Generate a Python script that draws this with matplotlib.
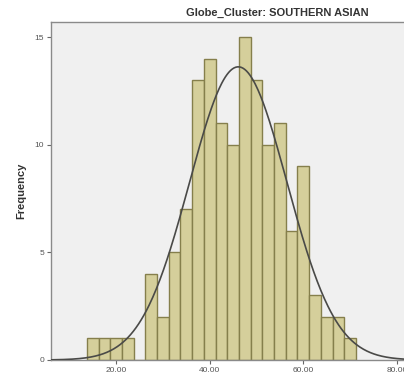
"""Histogram of cluster scores with fitted normal curve."""
import numpy as np
from matplotlib import pyplot as plt

# bin edges (width 2.5) and counts per bin
bin_left = [13.75, 16.25, 18.75, 21.25, 23.75, 26.25, 28.75, 31.25, 33.75,
            36.25, 38.75, 41.25, 43.75, 46.25, 48.75, 51.25, 53.75, 56.25,
            58.75, 61.25, 63.75, 66.25, 68.75]
counts = [1, 1, 1, 1, 0, 4, 2, 5, 7, 13, 14, 11, 10, 15, 13, 10, 11, 6,
          9, 3, 2, 2, 1]
bin_width = 2.5

# fitted normal parameters
mean = 46.1
std_dev = 10.4

x_ticks = [20, 40, 60, 80]
x_tick_labels = ["20.00", "40.00", "60.00", "80.00"]
y_ticks = [0, 5, 10, 15]

plt.rcParams["font.family"] = ["Liberation Sans", "DejaVu Sans"]

fig = plt.figure(figsize=(4.04, 3.81), dpi=100)
ax = fig.add_axes([51 / 404, 21 / 381, 1 - 51 / 404, (360 - 22) / 381])
ax.set_facecolor("#f0f0f0")

ax.bar(bin_left, counts, width=bin_width, align="edge",
       color="#d5cf9b", edgecolor="#857f4c", linewidth=1.0, zorder=2)

n_total = sum(counts)
xs = np.linspace(6.1, 81.5, 400)
dens = n_total * bin_width / (std_dev * np.sqrt(2 * np.pi)) * np.exp(
    -0.5 * ((xs - mean) / std_dev) ** 2)
ax.plot(xs, dens, color="#4a4a48", linewidth=1.2, zorder=3)

ax.set_xlim(6.1, 81.5)
ax.set_ylim(0, 15.7)
ax.set_xticks(x_ticks)
ax.set_xticklabels(x_tick_labels)
ax.set_yticks(y_ticks)

for side in ("left", "bottom", "top"):
    ax.spines[side].set_color("#8a8a8a")
    ax.spines[side].set_linewidth(1.0)
ax.spines["right"].set_visible(False)
ax.tick_params(axis="both", length=3, width=0.8, color="#666666",
               labelsize=6, labelcolor="#555555", pad=2)

ax.set_ylabel("Frequency", fontsize=8, fontweight="bold", color="#333333",
              labelpad=6)
fig.text(277 / 404, 1 - 13 / 381, "Globe_Cluster: SOUTHERN ASIAN",
         ha="center", va="center", fontsize=8, fontweight="bold",
         color="#333333")

fig.savefig("out.png", dpi=100)
